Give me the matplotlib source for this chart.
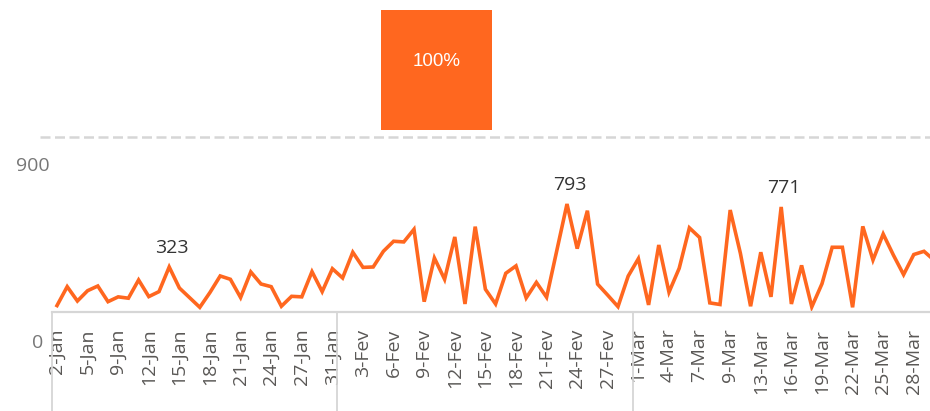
import numpy as np
import matplotlib
matplotlib.use("Agg")
import matplotlib.pyplot as plt
import matplotlib.transforms as mtransforms

# daily values, one per category on the x axis
values = [35, 176, 69, 146, 181, 64, 100, 90, 226, 102, 139, 323, 166, 94, 22,
          133, 256, 231, 95, 286, 196, 176, 30, 104, 100, 288, 139, 310,
          241, 433, 320, 323, 440, 515, 510, 604, 64, 390, 231, 547, 47, 624,
          157, 47, 276, 331, 92, 208, 97, 445, 793, 460, 743, 195, 112, 27, 255,
          385, 40, 487, 135, 313, 615, 543, 55, 43, 748, 425, 30, 433, 100, 771,
          47, 335, 25, 198, 470, 470, 22, 626, 375, 569, 412, 266, 416, 440, 373]

tick_labels = ['2-Jan', '5-Jan', '9-Jan', '12-Jan', '15-Jan', '18-Jan', '21-Jan',
               '24-Jan', '27-Jan', '31-Jan', '3-Fev', '6-Fev', '9-Fev', '12-Fev',
               '15-Fev', '18-Fev', '21-Fev', '24-Fev', '27-Fev', '1-Mar', '4-Mar',
               '7-Mar', '9-Mar', '13-Mar', '16-Mar', '19-Mar', '22-Mar', '25-Mar',
               '28-Mar']
month_sizes = [28, 29, 30]          # points per month (Jan, Fev, Mar)
labelled_points = [11, 50, 71]      # points with a data label
pct_label = '100%'

orange = '#FF671F'
grey_line = '#D6D6D6'

W, H = 930, 411
fig = plt.figure(figsize=(W / 100, H / 100), dpi=100)

# ---- top card : orange box + dashed separator
ax_top = fig.add_axes([0, 0, 1, 1])
ax_top.set_xlim(0, W)
ax_top.set_ylim(H, 0)
ax_top.axis('off')
ax_top.add_patch(plt.Rectangle((381, 10), 111, 120, color=orange, lw=0))
ax_top.text(436.5, 62, pct_label, color='white', fontsize=13.5,
            family='Liberation Sans', ha='center', va='center')
ax_top.plot([40, W], [137, 137], color=grey_line, lw=1.8, dashes=(4, 1.8))

# ---- line chart
left, right, bottom, top = 52, 930, 312, 150
ax = fig.add_axes([left / W, (H - bottom) / H, (right - left) / W, (bottom - top) / H])
x = np.arange(len(values))
ax.plot(x, values, color=orange, lw=2.6, solid_joinstyle='miter')
ax.set_xlim(-0.49, 85.59)
ax.set_ylim(-13, 1196)

for s in ['top', 'right', 'left']:
    ax.spines[s].set_visible(False)
ax.spines['bottom'].set_color(grey_line)
ax.spines['bottom'].set_linewidth(1.6)
ax.set_yticks([])
ax.set_xticks(np.arange(0, 3 * len(tick_labels), 3))
ax.set_xticklabels(tick_labels, rotation=90, fontsize=14, color='#5A5856',
                   family='Open Sans')
ax.tick_params(axis='x', length=0, pad=12)

# month separators below the axis
trans = mtransforms.blended_transform_factory(ax.transData, ax.transAxes)
edges = [-0.49] + list(np.cumsum(month_sizes)[:-1] - 0.5)
for e in edges:
    ax.plot([e, e], [0, -0.7], color=grey_line, lw=1.3, transform=trans,
            clip_on=False)

for i in labelled_points:
    ax.annotate(str(values[i]), (x[i], values[i]), xytext=(2, 7),
                textcoords='offset points', ha='center', va='bottom',
                fontsize=14, color='#333333', family='Open Sans')

# y axis labels
fig.text(33 / W, (H - 166) / H, '900', fontsize=14, color='#777777',
         family='Open Sans', ha='center', va='center')
fig.text(38 / W, (H - 343) / H, '0', fontsize=14, color='#777777',
         family='Open Sans', ha='center', va='center')

plt.savefig('out.png', dpi=100)
